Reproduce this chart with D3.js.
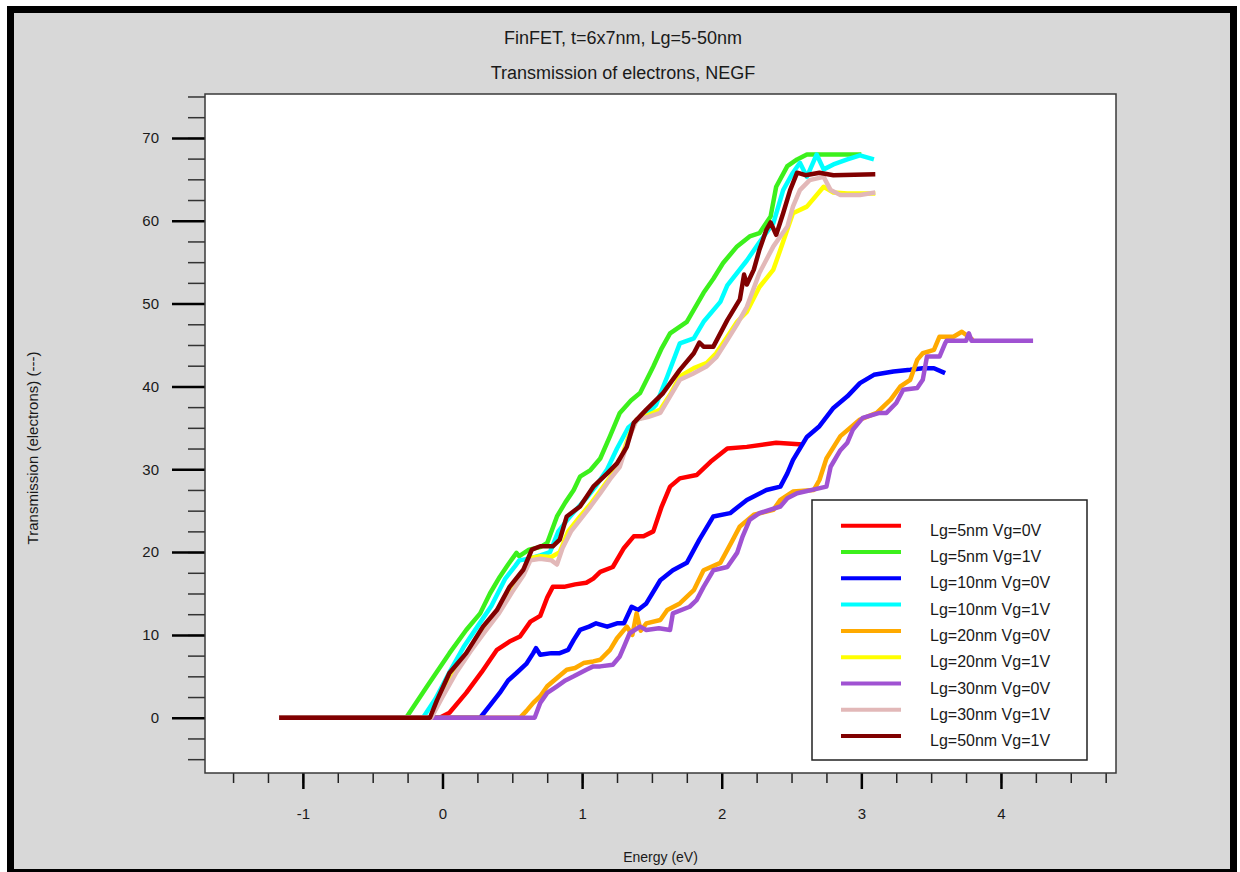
<!DOCTYPE html>
<html>
<head>
<meta charset="utf-8">
<script src="https://cdn.jsdelivr.net/npm/d3@7"></script>
<style>
  body { margin: 0; background: #ffffff; }
  text { font-family: "Liberation Sans", Arial, sans-serif; fill: #1a1a1a; }
</style>
</head>
<body>
<div id="chart"></div>
<script>

//--------------------------------------------------------------------------
//
// data (energy in eV, transmission in electrons)
//

var lg5Vg0 = [[-1.17,0],[-0.02,0],[0.05,0.6],[0.17,3],[0.28,5.5],[0.39,8.2],[0.48,9.2],[0.555,9.8],
  [0.63,11.6],[0.70,12.3],[0.75,14.5],[0.79,15.8],[0.87,15.8],[0.95,16.1],[1.03,16.3],[1.08,16.8],
  [1.13,17.6],[1.22,18.2],[1.30,20.5],[1.37,21.9],[1.44,21.9],[1.51,22.5],[1.57,25.5],[1.63,27.9],
  [1.70,28.9],[1.82,29.3],[1.92,30.9],[2.04,32.5],[2.18,32.7],[2.39,33.2],[2.58,33.0]];

var lg5Vg1 = [[-1.17,0],[-0.26,0],[-0.11,3.8],[0.05,7.8],[0.17,10.6],[0.27,12.6],[0.34,15.0],[0.41,17.0],
  [0.47,18.5],[0.53,19.9],[0.55,19.5],[0.62,20.3],[0.70,20.6],[0.75,21.1],[0.82,24.3],[0.88,26.0],
  [0.94,27.5],[0.985,29.1],[1.06,29.9],[1.13,31.3],[1.20,34.0],[1.27,36.8],[1.35,38.3],[1.415,39.2],
  [1.51,42.4],[1.57,44.6],[1.63,46.4],[1.75,47.8],[1.87,51.3],[1.94,53.0],[2.01,54.9],[2.11,56.9],
  [2.20,58.1],[2.27,58.5],[2.35,60.5],[2.39,64.1],[2.47,66.6],[2.54,67.4],[2.61,68.0],[2.85,68.0],
  [3.0,68.0]];

var lg10Vg0 = [[-1.17,0],[0.27,0],[0.34,1.5],[0.41,3.0],[0.47,4.5],[0.53,5.4],[0.60,6.5],[0.65,7.8],
  [0.67,8.4],[0.70,7.6],[0.78,7.8],[0.84,7.8],[0.90,8.2],[0.94,9.4],[0.985,10.6],[1.05,11.0],
  [1.10,11.4],[1.18,11.0],[1.25,11.4],[1.30,11.4],[1.355,13.4],[1.40,13.0],[1.46,13.8],[1.56,16.6],
  [1.65,17.8],[1.75,18.7],[1.84,21.5],[1.94,24.3],[2.06,24.7],[2.18,26.3],[2.32,27.5],[2.42,27.9],
  [2.47,29.5],[2.51,31.1],[2.61,33.9],[2.70,35.2],[2.80,37.4],[2.90,38.8],[2.99,40.4],[3.09,41.4],
  [3.23,41.8],[3.35,42.0],[3.44,42.2],[3.52,42.2],[3.60,41.6]];

var lg10Vg1 = [[-1.17,0],[-0.14,0],[-0.05,2.3],[0.05,5.5],[0.15,8.5],[0.25,11.0],[0.35,13.5],[0.45,16.8],
  [0.52,18.3],[0.55,19.0],[0.62,19.2],[0.70,19.6],[0.77,20.0],[0.83,22.5],[0.89,23.8],[0.95,25.0],
  [1.03,26.5],[1.10,28.0],[1.18,30.0],[1.25,32.5],[1.33,35.0],[1.40,36.0],[1.46,36.5],[1.53,37.8],
  [1.61,41.2],[1.70,45.2],[1.80,45.8],[1.87,47.8],[1.99,50.2],[2.04,52.2],[2.18,55.2],[2.27,57.4],
  [2.37,59.7],[2.44,63.7],[2.51,65.8],[2.56,67.0],[2.61,65.3],[2.68,68.0],[2.73,66.2],[2.80,66.8],
  [2.90,67.4],[2.99,67.9],[3.09,67.4]];

var lg20Vg0 = [[-1.17,0],[0.555,0],[0.60,0.8],[0.65,1.8],[0.70,2.6],[0.75,3.8],[0.82,4.8],[0.89,5.8],
  [0.95,6.0],[1.01,6.6],[1.08,6.8],[1.13,7.0],[1.20,8.2],[1.25,9.6],[1.32,11.0],[1.36,10.0],
  [1.39,12.6],[1.42,10.5],[1.46,11.4],[1.56,11.8],[1.61,13.0],[1.70,13.8],[1.80,15.4],[1.87,17.8],
  [1.99,18.7],[2.08,21.5],[2.13,23.1],[2.23,24.5],[2.37,25.1],[2.42,26.3],[2.51,27.3],[2.66,27.5],
  [2.70,28.7],[2.75,31.3],[2.85,34.0],[2.99,36.0],[3.11,36.8],[3.21,38.4],[3.28,40.0],[3.35,40.8],
  [3.40,43.2],[3.44,44.0],[3.52,44.4],[3.56,46.0],[3.66,46.0],[3.72,46.6],[3.80,45.6]];

var lg20Vg1 = [[-1.17,0],[-0.09,0],[0.0,2.7],[0.1,5.8],[0.2,8.3],[0.3,10.6],[0.4,12.8],[0.5,15.6],
  [0.58,17.6],[0.63,19.3],[0.70,19.5],[0.78,19.4],[0.84,20.0],[0.90,22.5],[0.985,24.3],[1.06,25.8],
  [1.13,27.4],[1.20,29.0],[1.27,30.8],[1.33,33.8],[1.39,36.0],[1.47,36.5],[1.56,37.2],[1.63,39.0],
  [1.70,41.2],[1.80,42.2],[1.89,42.8],[1.96,44.0],[2.04,46.0],[2.11,47.8],[2.18,49.0],[2.27,52.0],
  [2.37,54.1],[2.42,56.5],[2.51,60.9],[2.61,61.7],[2.73,64.1],[2.80,63.4],[2.90,63.3],[3.10,63.3]];

var lg30Vg0 = [[-1.17,0],[0.66,0],[0.70,1.8],[0.75,3.0],[0.82,3.8],[0.88,4.5],[0.94,5.0],[1.03,5.8],
  [1.08,6.2],[1.13,6.2],[1.22,6.4],[1.27,7.4],[1.30,8.6],[1.34,10.2],[1.415,11.0],[1.46,10.6],
  [1.55,10.8],[1.63,10.6],[1.65,12.6],[1.77,13.4],[1.82,14.2],[1.87,15.8],[1.94,17.8],[2.04,18.2],
  [2.11,19.9],[2.15,21.9],[2.20,23.9],[2.27,24.7],[2.42,25.5],[2.47,26.5],[2.54,27.1],[2.75,27.9],
  [2.78,30.3],[2.85,32.3],[2.90,33.2],[2.94,34.8],[3.01,36.2],[3.13,36.8],[3.18,36.8],[3.25,38.0],
  [3.30,39.6],[3.40,39.8],[3.44,40.8],[3.47,43.6],[3.56,43.6],[3.60,45.2],[3.61,45.5],[3.75,45.5],
  [3.77,46.4],[3.79,45.5],[4.23,45.5]];

var lg30Vg1 = [[-1.17,0],[-0.08,0],[0.0,2.5],[0.1,5.5],[0.2,8.0],[0.3,10.3],[0.4,12.5],[0.5,15.2],
  [0.58,17.2],[0.63,19.0],[0.70,19.2],[0.78,19.0],[0.82,18.5],[0.86,20.5],[0.92,22.5],[0.985,23.9],
  [1.06,25.5],[1.13,27.1],[1.20,28.8],[1.27,30.3],[1.33,33.5],[1.39,36.0],[1.47,36.3],[1.56,36.8],
  [1.63,38.8],[1.70,40.8],[1.79,41.5],[1.89,42.4],[1.96,43.5],[2.04,45.6],[2.11,47.5],[2.18,49.6],
  [2.27,53.7],[2.37,56.9],[2.47,59.3],[2.51,61.7],[2.56,63.7],[2.63,64.9],[2.73,65.3],[2.78,63.7],
  [2.85,63.1],[2.99,63.1],[3.10,63.4]];

var lg50Vg1 = [[-1.17,0],[-0.09,0],[-0.04,2.1],[0.05,5.4],[0.17,7.8],[0.29,11.0],[0.39,13.0],[0.48,15.8],
  [0.58,17.9],[0.64,20.3],[0.70,20.7],[0.79,20.7],[0.84,21.5],[0.89,24.3],[0.985,25.5],[1.08,27.9],
  [1.18,29.5],[1.25,30.7],[1.32,32.7],[1.37,35.6],[1.46,37.2],[1.58,39.2],[1.70,42.0],[1.80,44.0],
  [1.84,45.3],[1.87,44.8],[1.94,44.8],[2.04,48.0],[2.13,50.5],[2.16,53.5],[2.18,52.3],[2.23,54.1],
  [2.27,56.5],[2.32,58.9],[2.35,59.8],[2.39,58.3],[2.44,60.9],[2.49,63.7],[2.54,65.8],[2.60,65.5],
  [2.70,65.8],[2.80,65.5],[3.10,65.6]];

var seriesNames = ["Lg=5nm Vg=0V", "Lg=5nm Vg=1V", "Lg=10nm Vg=0V", "Lg=10nm Vg=1V",
  "Lg=20nm Vg=0V", "Lg=20nm Vg=1V", "Lg=30nm Vg=0V", "Lg=30nm Vg=1V", "Lg=50nm Vg=1V"];
var seriesValues = [lg5Vg0, lg5Vg1, lg10Vg0, lg10Vg1, lg20Vg0, lg20Vg1, lg30Vg0, lg30Vg1, lg50Vg1];
var seriesColors = ["#ff0000", "#3cf01c", "#0000ff", "#00ffff", "#ffaa00", "#ffff00",
  "#a052d2", "#e2b8b8", "#800000"];

var xMajorTicks = [-1, 0, 1, 2, 3, 4];
var xMinorTicks = d3.range(-1.5, 4.8, 0.25);
var yMajorTicks = [0, 10, 20, 30, 40, 50, 60, 70];
var yMinorTicks = d3.range(-5, 75.1, 2.5);

var titleLines = ["FinFET, t=6x7nm, Lg=5-50nm", "Transmission of electrons, NEGF"];

//--------------------------------------------------------------------------
//
// geometry
//

var width = 1240, height = 872;
var plot = {left: 205, top: 94, right: 1116, bottom: 773};

var svg = d3.select("#chart").append("svg")
    .attr("width", width)
    .attr("height", height);

// grey panel with thick black frame
svg.append("rect")
    .attr("x", 10.5).attr("y", 9.5)
    .attr("width", 1223).attr("height", 863)
    .attr("fill", "#d8d8d8")
    .attr("stroke", "#000")
    .attr("stroke-width", 7);

var x = d3.scaleLinear().domain([-1.701, 4.824]).range([plot.left, plot.right]);
var y = d3.scaleLinear().domain([-6.67, 75.3]).range([plot.bottom, plot.top]);

svg.append("rect")
    .attr("x", plot.left).attr("y", plot.top)
    .attr("width", plot.right - plot.left)
    .attr("height", plot.bottom - plot.top)
    .attr("fill", "#fff");

// titles
svg.selectAll("text.title")
    .data(titleLines)
    .enter().append("text")
    .attr("class", "title")
    .attr("x", 623)
    .attr("y", function(d, i) { return 44 + i * 35; })
    .attr("text-anchor", "middle")
    .style("font-size", "18px")
    .text(function(d) { return d; });

//--------------------------------------------------------------------------
//
// axes
//

function styleAxis(g, color, width) {
  g.select(".domain").remove();
  g.selectAll(".tick line").attr("stroke", color).attr("stroke-width", width);
}

// plain hyphen for negatives, like the original
var tickText = function(d) { return String(d); };

svg.append("g")
    .attr("transform", "translate(" + plot.left + ",0)")
    .call(d3.axisLeft(y).tickValues(yMinorTicks).tickSize(17).tickFormat(""))
    .call(styleAxis, "#333", 1.5);

svg.append("g")
    .attr("transform", "translate(" + plot.left + ",0)")
    .call(d3.axisLeft(y).tickValues(yMajorTicks).tickSize(33).tickPadding(13).tickFormat(tickText))
    .call(styleAxis, "#000", 2.5)
    .selectAll("text")
    .style("font-size", "15px")
    .style("font-family", "'Liberation Sans', Arial, sans-serif")
    .attr("fill", "#1a1a1a");

svg.append("g")
    .attr("transform", "translate(0," + plot.bottom + ")")
    .call(d3.axisBottom(x).tickValues(xMinorTicks).tickSize(10).tickFormat(""))
    .call(styleAxis, "#222", 1.5);

svg.append("g")
    .attr("transform", "translate(0," + plot.bottom + ")")
    .call(d3.axisBottom(x).tickValues(xMajorTicks).tickSize(16).tickPadding(19).tickFormat(tickText))
    .call(styleAxis, "#000", 2.5)
    .selectAll("text")
    .style("font-size", "15px")
    .style("font-family", "'Liberation Sans', Arial, sans-serif")
    .attr("fill", "#1a1a1a");

svg.append("text")
    .attr("x", (plot.left + plot.right) / 2)
    .attr("y", 862)
    .attr("text-anchor", "middle")
    .style("font-size", "14px")
    .text("Energy (eV)");

svg.append("text")
    .attr("transform", "translate(38,448) rotate(-90)")
    .attr("text-anchor", "middle")
    .style("font-size", "15px")
    .text("Transmission (electrons) (---)");

//--------------------------------------------------------------------------
//
// curves
//

svg.append("clipPath")
    .attr("id", "plot-area")
    .append("rect")
    .attr("x", plot.left).attr("y", plot.top)
    .attr("width", plot.right - plot.left)
    .attr("height", plot.bottom - plot.top);

var line = d3.line()
    .x(function(d) { return x(d[0]); })
    .y(function(d) { return y(d[1]); });

svg.append("g")
    .attr("clip-path", "url(#plot-area)")
    .selectAll("path")
    .data(seriesValues)
    .enter().append("path")
    .attr("d", line)
    .attr("fill", "none")
    .attr("stroke", function(d, i) { return seriesColors[i]; })
    .attr("stroke-width", 4.5)
    .attr("stroke-linejoin", "round");

// plot frame on top
svg.append("rect")
    .attr("x", plot.left).attr("y", plot.top)
    .attr("width", plot.right - plot.left)
    .attr("height", plot.bottom - plot.top)
    .attr("fill", "none")
    .attr("stroke", "#3a3a3a")
    .attr("stroke-width", 1.5);

//--------------------------------------------------------------------------
//
// legend
//

var legend = svg.append("g").attr("transform", "translate(812,500)");

legend.append("rect")
    .attr("width", 275).attr("height", 260)
    .attr("fill", "#fff")
    .attr("stroke", "#222")
    .attr("stroke-width", 1.5);

var rows = legend.selectAll("g.row")
    .data(seriesNames)
    .enter().append("g")
    .attr("class", "row")
    .attr("transform", function(d, i) { return "translate(0," + (25.7 + i * 26.3) + ")"; });

rows.append("line")
    .attr("x1", 29).attr("x2", 89)
    .attr("stroke", function(d, i) { return seriesColors[i]; })
    .attr("stroke-width", 4);

rows.append("text")
    .attr("x", 118)
    .attr("y", 10)
    .style("font-size", "16px")
    .text(function(d) { return d; });

</script>
</body>
</html>
